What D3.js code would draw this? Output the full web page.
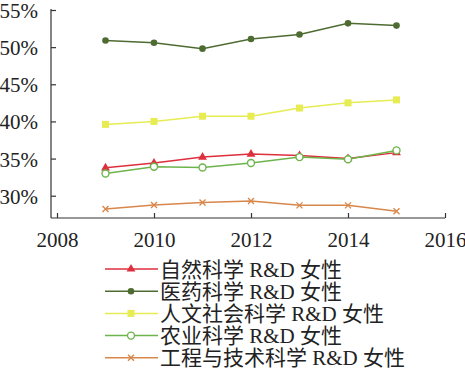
<!DOCTYPE html>
<head>
  <meta charset="utf-8">
  <script src="https://d3js.org/d3.v7.min.js"></script>
</head>
<body style="margin:0;background:#fff">
<svg width="465" height="373" style="display:block"></svg>
  <script>
var years = [2009, 2010, 2011, 2012, 2013, 2014, 2015];
var xTicks = [2008, 2010, 2012, 2014, 2016];
var yTicks = [30, 35, 40, 45, 50, 55];
var names = ["自然科学 R&D 女性", "医药科学 R&D 女性", "人文社会科学 R&D 女性", "农业科学 R&D 女性", "工程与技术科学 R&D 女性"];
var natural = [33.75, 34.4, 35.2, 35.6, 35.4, 35.0, 35.8];
var medical = [50.9, 50.6, 49.8, 51.1, 51.7, 53.2, 52.9];
var humanities = [39.6, 40.0, 40.7, 40.7, 41.8, 42.5, 42.9];
var agriculture = [33.0, 33.9, 33.8, 34.4, 35.2, 34.9, 36.1];
var engineering = [28.2, 28.75, 29.1, 29.3, 28.7, 28.7, 27.9];

var series = [
  {name: names[0], values: natural, color: "#de2f3c", marker: "triangle"},
  {name: names[1], values: medical, color: "#4e6b32", marker: "dot"},
  {name: names[2], values: humanities, color: "#e6ec52", marker: "square"},
  {name: names[3], values: agriculture, color: "#6db44c", marker: "ring"},
  {name: names[4], values: engineering, color: "#d8874c", marker: "cross"}
];

var serif = "'Liberation Serif', 'Noto Sans CJK SC'";

var svg = d3.select("svg");
var x = d3.scaleLinear().domain([2008, 2016]).range([57, 445]);
var y = d3.scaleLinear().domain([27, 55]).range([218, 10]);

// axes
var xAxis = svg.append("g").attr("transform", "translate(0,218)")
  .call(d3.axisBottom(x).tickValues(xTicks).tickSize(-5).tickPadding(16).tickFormat(d3.format("d")));
xAxis.select(".domain").attr("d", "M51,0H445");
xAxis.selectAll("text").attr("dy", "0.6em");

var yAxis = svg.append("g").attr("transform", "translate(51,0)")
  .call(d3.axisLeft(y).tickValues(yTicks).tickSize(-5).tickPadding(13).tickFormat(function(d) { return d + "%"; }));
yAxis.select(".domain").attr("d", "M0,9V218");
yAxis.selectAll("text").attr("dy", "0.36em");
svg.selectAll(".tick text")
  .style("font-family", serif).style("font-size", "21px").style("fill", "#222");
svg.selectAll(".domain, .tick line").attr("stroke", "#333").attr("stroke-width", 1.2);

var line = d3.line().x(function(d, i) { return x(years[i]); }).y(function(d) { return y(d); });

function drawMarker(g, type, color) {
  if (type == "triangle") {
    g.append("path").attr("d", d3.symbol().type(d3.symbolTriangle).size(34)).attr("fill", color);
  } else if (type == "dot") {
    g.append("circle").attr("r", 3.3).attr("fill", color);
  } else if (type == "square") {
    g.append("rect").attr("x", -3.5).attr("y", -3.5).attr("width", 7).attr("height", 7).attr("fill", color);
  } else if (type == "ring") {
    g.append("circle").attr("r", 3.5).attr("fill", "#fff").attr("stroke", color).attr("stroke-width", 1.4);
  } else {
    g.append("path").attr("d", "M-3,-3L3,3M-3,3L3,-3").attr("stroke", color).attr("stroke-width", 1.4);
  }
}

series.forEach(function(s) {
  svg.append("path").datum(s.values)
    .attr("fill", "none").attr("stroke", s.color).attr("stroke-width", 1.5)
    .attr("d", line);
  s.values.forEach(function(v, i) {
    var g = svg.append("g").attr("transform", "translate(" + x(years[i]) + "," + y(v) + ")");
    drawMarker(g, s.marker, s.color);
  });
});

// legend
var legend = svg.append("g");
series.forEach(function(s, i) {
  var ly = 269 + i * 22.2;
  legend.append("line").attr("x1", 105).attr("x2", 158).attr("y1", ly).attr("y2", ly)
    .attr("stroke", s.color).attr("stroke-width", 1.5);
  drawMarker(legend.append("g").attr("transform", "translate(131," + ly + ")"), s.marker, s.color);
  legend.append("text").attr("x", 160).attr("y", ly).attr("dy", "0.36em")
    .style("font-family", serif).style("font-size", "21px").style("fill", "#222")
    .text(s.name);
});
  </script>
</body>
